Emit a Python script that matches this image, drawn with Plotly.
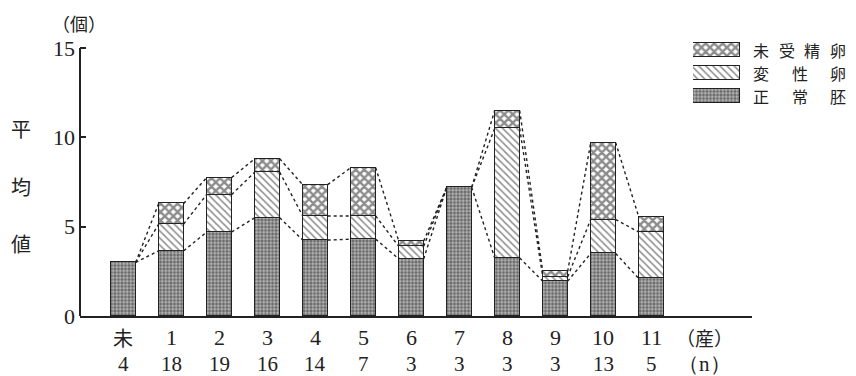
import plotly.graph_objects as go

# ---------------- data ----------------
categories = ["未", "1", "2", "3", "4", "5", "6", "7", "8", "9", "10", "11"]
n_values = [4, 18, 19, 16, 14, 7, 3, 3, 3, 3, 13, 5]
normal = [3.0, 3.65, 4.7, 5.5, 4.25, 4.3, 3.2, 7.2, 3.25, 1.95, 3.5, 2.1]        # 正常胚
degenerate = [0, 1.5, 2.1, 2.55, 1.35, 1.3, 0.7, 0, 7.25, 0.25, 1.9, 2.6]      # 変性卵
unfertilized = [0, 1.15, 0.95, 0.75, 1.75, 2.7, 0.3, 0, 1.0, 0.3, 4.3, 0.85]   # 未受精卵
y_ticks = [0, 5, 10, 15]
legend_labels = ["未受精卵", "変性卵", "正常胚"]

# ---------------- geometry / style (page pixel coordinates) ----------------
PAGE_OFF = 8                 # default body margin of the html page
FIG_W, FIG_H = 856 - PAGE_OFF, 376 - PAGE_OFF
PL, PR, PT, PB = 80, 752, 38, 316   # plot area edges on the page
BAR_W = 0.52
INK = "#222222"
SERIF = "Liberation Serif, Times New Roman, serif"
CJK = "Noto Sans CJK JP, sans-serif"
PX_PER_UNIT = (PB - 48) / 15.0

def px_x(px):
    return (px - PL) / (PR - PL)

def px_y(py):
    return (PB - py) / (PB - PT)

xs = list(range(len(categories)))

patterns = {
    "normal": dict(shape=".", size=3.5, solidity=0.55, fgcolor="white", bgcolor="#636363"),
    "degenerate": dict(shape="\\", size=5, solidity=0.3, fgcolor="#1a1a1a", bgcolor="white"),
    "unfertilized": dict(shape="x", size=6, solidity=0.65, fgcolor="#1a1a1a", bgcolor="white"),
}

fig = go.Figure()
for vals, key, name in [(normal, "normal", "正常胚"),
                        (degenerate, "degenerate", "変性卵"),
                        (unfertilized, "unfertilized", "未受精卵")]:
    fig.add_trace(go.Bar(
        x=xs, y=vals, width=BAR_W, name=name, showlegend=False,
        marker=dict(color="white", pattern=patterns[key],
                    line=dict(color=INK, width=1.5)),
    ))

# dashed connecting lines between segment tops
lvl1 = normal
lvl2 = [a + b for a, b in zip(normal, degenerate)]
lvl3 = [a + b + c for a, b, c in zip(normal, degenerate, unfertilized)]
for lvl in (lvl1, lvl2, lvl3):
    lx, ly = [], []
    for i in range(len(xs) - 1):
        lx += [xs[i] + BAR_W / 2, xs[i + 1] - BAR_W / 2, None]
        ly += [lvl[i], lvl[i + 1], None]
    fig.add_trace(go.Scatter(x=lx, y=ly, mode="lines", showlegend=False,
                             line=dict(color=INK, width=1.4, dash="3px,3px"),
                             hoverinfo="skip"))

# custom legend boxes (overlay axes)
leg_top, leg_bot = 39, 107
for k, key in enumerate(["unfertilized", "degenerate", "normal"]):
    fig.add_trace(go.Bar(
        x=[1], y=[k], orientation="h", width=0.62, xaxis="x2", yaxis="y2",
        showlegend=False, hoverinfo="skip",
        marker=dict(color="white", pattern=patterns[key],
                    line=dict(color=INK, width=1.5)),
    ))

def ann(x, y, text, font, xref="paper", yref="paper", yshift=0):
    return dict(x=x, y=y, xref=xref, yref=yref, yshift=yshift, text=text,
                showarrow=False, xanchor="center", yanchor="middle", font=font)

f_num = dict(family=SERIF, size=22, color=INK)
f_n = dict(family=SERIF, size=21, color=INK)
f_cjk = dict(family=CJK, size=20, color=INK)

annotations = []
for x, c, n in zip(xs, categories, n_values):
    annotations.append(ann(x, px_y(337), c, f_cjk if c == "未" else f_num, xref="x"))
    annotations.append(ann(x, px_y(364), str(n), f_n, xref="x"))
annotations.append(ann(12.12, px_y(337), "（産）", dict(family=CJK, size=19, color=INK), xref="x"))
annotations.append(ann(12.12, px_y(364), "（n）", f_n, xref="x"))
annotations.append(ann(px_x(79), px_y(23), "（個）", dict(family=CJK, size=18, color=INK)))
for ch, py in zip("平均値", [128, 186, 243]):
    annotations.append(ann(px_x(21), px_y(py), ch, f_cjk))
row_h = (leg_bot - leg_top) / 3
t_left, t_right = 761, 838
for r, label in enumerate(legend_labels):
    py = leg_top + row_h * (r + 0.5)
    m = len(label)
    for j, ch in enumerate(label):
        cx = t_left + j * (t_right - t_left) / (m - 1)
        annotations.append(ann(px_x(cx), px_y(py), ch, dict(family=CJK, size=16, color=INK)))

fig.update_layout(
    width=FIG_W, height=FIG_H,
    margin=dict(l=PL - PAGE_OFF, r=FIG_W - (PR - PAGE_OFF),
                t=PT - PAGE_OFF, b=FIG_H - (PB - PAGE_OFF)),
    paper_bgcolor="white", plot_bgcolor="white",
    barmode="stack", bargap=0,
    xaxis=dict(range=[-0.9, 13.1], showticklabels=False, ticks="", showgrid=False,
               zeroline=False, showline=True, linecolor=INK, linewidth=2),
    yaxis=dict(range=[0, (PB - PT) / PX_PER_UNIT], tickvals=y_ticks,
               ticktext=[str(v) for v in y_ticks],
               ticks="inside", ticklen=6, tickwidth=1.5, tickcolor=INK,
               showgrid=False, zeroline=False, showline=False,
               tickfont=f_num, ticklabelstandoff=4),
    xaxis2=dict(domain=[px_x(693), px_x(740)], range=[0, 1], visible=False, anchor="y2"),
    yaxis2=dict(domain=[px_y(leg_bot), px_y(leg_top)], range=[2.5, -0.5], visible=False, anchor="x2"),
    shapes=[dict(type="line", xref="paper", yref="y", x0=0, x1=0, y0=0, y1=15,
                 line=dict(color=INK, width=2))],
    annotations=annotations,
)

fig.write_html("out.html")
